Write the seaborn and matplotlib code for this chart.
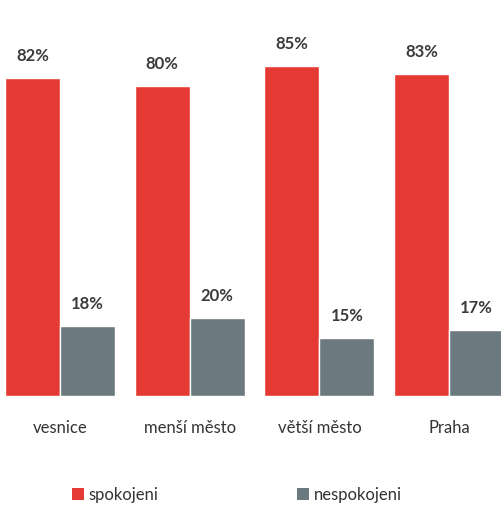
import matplotlib
matplotlib.use("Agg")
import matplotlib.pyplot as plt
import seaborn as sns
import pandas as pd
from matplotlib.patches import Patch

categories = ["vesnice", "menší město", "větší město", "Praha"]
spokojeni = [82, 80, 85, 83]
nespokojeni = [18, 20, 15, 17]
series_names = ["spokojeni", "nespokojeni"]
colors = ["#E53A33", "#6C7A80"]

sns.set_theme(style="white")
plt.rcParams["font.family"] = ["Lato", "DejaVu Sans"]

df = pd.DataFrame({
    "kategorie": categories * 2,
    "hodnota": spokojeni + nespokojeni,
    "skupina": [series_names[0]] * 4 + [series_names[1]] * 4,
})

fig = plt.figure(figsize=(5.01, 5.08), dpi=100)
ax = fig.add_axes([0, 0.2205, 1, 0.7795])

sns.barplot(data=df, x="kategorie", y="hodnota", hue="skupina",
            palette=colors, width=0.848, gap=0, saturation=1,
            legend=False, ax=ax, errorbar=None)

for container in ax.containers:
    ax.bar_label(container, labels=[f"{v:.0f}%" for v in container.datavalues],
                 padding=10, fontsize=12, fontweight="bold", color="#3B3B3B")

ax.set_xlim(-0.4626, 3.40)
ax.set_ylim(0, 102.06)
ax.set_xlabel("")
ax.set_ylabel("")
ax.set_yticks([])
ax.tick_params(axis="x", length=0, pad=17, labelsize=12, labelcolor="#333333")
sns.despine(ax=ax, left=True, bottom=True)

handles = [Patch(facecolor=c, edgecolor="none") for c in colors]
fig.legend(handles, series_names, loc="center left", bbox_to_anchor=(0.121, 0.026),
           ncol=2, frameon=False, fontsize=12, handlelength=0.7, handleheight=0.7,
           handletextpad=0.3, columnspacing=8.3, labelcolor="#333333",
           borderpad=0.2)

fig.savefig("out.png", dpi=100)
